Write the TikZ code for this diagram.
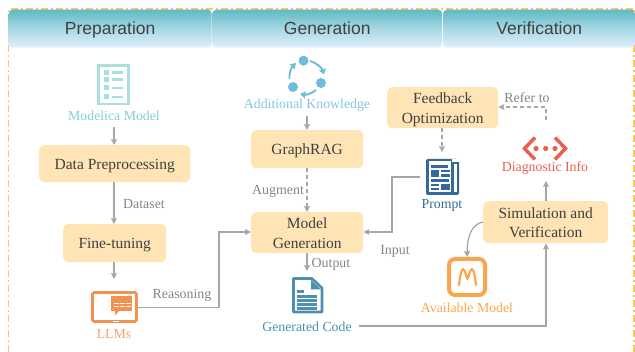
\documentclass[tikz,border=0pt]{standalone}
\usepackage{fontspec}
\setmainfont{Liberation Serif}
\newfontfamily\headfont{Liberation Sans}
\usetikzlibrary{arrows.meta,positioning}
\definecolor{boxfill}{HTML}{FFE4B5}
\definecolor{framec}{HTML}{FBC65F}
\definecolor{headtop}{HTML}{5FBAC5}
\definecolor{headbot}{HTML}{E1F0FC}
\definecolor{linec}{HTML}{A6A6A6}
\definecolor{labelc}{HTML}{858585}
\definecolor{inkc}{HTML}{404040}
\definecolor{modelc}{HTML}{A9DFE1}
\definecolor{modeltx}{HTML}{7FD0D4}
\definecolor{knowc}{HTML}{6FBBDA}
\definecolor{llmc}{HTML}{F39250}
\definecolor{codec}{HTML}{4E8FB0}
\definecolor{promptc}{HTML}{35689B}
\definecolor{availc}{HTML}{FBA64F}
\definecolor{diagc}{HTML}{E8604F}
\tikzset{
  x=1pt,y=-1pt,
  head/.style={anchor=north west,rounded corners=4pt,top color=headtop,bottom color=headbot,middle color=headbot!55!headtop,shading angle=0,draw=none,inner sep=0pt,font=\headfont\fontsize{17.5}{20}\selectfont,text=inkc,text height=12.6,text depth=0},
  procbox/.style={fill=boxfill,rounded corners=5pt,align=center,font=\fontsize{15.5}{19.5}\selectfont,text=inkc,inner sep=0pt,anchor=north west},
  oneline/.style={procbox,text height=11.6,text depth=0},
  twoline/.style={procbox,text height=31,text depth=0},
  conn/.style={draw=linec,line width=1.2pt,-{Stealth[length=6pt,width=6pt,inset=1pt]}},
  dconn/.style={conn,dash pattern=on 4pt off 3pt},
  lab/.style={font=\fontsize{13.9}{16}\selectfont,text=labelc,inner sep=0pt},
  captext/.style={font=\fontsize{13.8}{16}\selectfont,inner sep=0pt},
  iconbox/.style={inner sep=0pt,anchor=north west},
}
\begin{document}
\begin{tikzpicture}
\useasboundingbox (0,0) rectangle (635,352);
% frame
\draw[framec,line width=1.1pt,dash pattern=on 7pt off 3pt on 2pt off 3pt] (8.5,352) -- (8.5,9) -- (634,9) -- (634,352);
% headers
\node[head,minimum width=203,minimum height=38] (h1) at (8.5,9.5) {Preparation};
\node[head,minimum width=230,minimum height=38] (h2) at (212,9.5) {Generation};
\node[head,minimum width=192,minimum height=38] (h3) at (443,9.5) {Verification};
% process boxes
\node[oneline,minimum width=151,minimum height=37] (dp) at (39,145) {Data Preprocessing};
\node[oneline,minimum width=103,minimum height=38] (ft) at (63,224) {Fine-tuning};
\node[oneline,minimum width=112,minimum height=38] (gr) at (251,130) {GraphRAG};
\node[twoline,minimum width=112,minimum height=41] (mg) at (251,212) {Model\\Generation};
\node[twoline,minimum width=111,minimum height=41] (fo) at (387,87) {Feedback\\Optimization};
\node[twoline,minimum width=125,minimum height=42] (sv) at (483,201) {Simulation and\\Verification};
% icon placeholders
\node[iconbox,minimum width=33,minimum height=42] (imm) at (97,64) {};
\node[iconbox,minimum width=47,minimum height=32] (illm) at (91,291) {};
\node[iconbox,minimum width=31,minimum height=36] (icode) at (292,277) {};
\node[iconbox,minimum width=33,minimum height=36] (iprompt) at (426,159) {};
\node[iconbox,minimum width=40,minimum height=40] (iavail) at (447,257) {};
\node[iconbox,minimum width=46,minimum height=25] (idiag) at (522,136) {};
% captions
\node[captext,text=modeltx] (tmm) at (114,116) {Modelica Model};
\node[captext,text=knowc!85!white] (tak) at (307,105) {Additional Knowledge};
\node[captext,text=llmc!85!white] (tllm) at (114,334.5) {LLMs};
\node[captext,text=codec] (tcode) at (307,327) {Generated Code};
\node[captext,text=promptc] (tprompt) at (442,205) {Prompt};
\node[captext,text=availc] (tavail) at (467,308) {Available Model};
\node[captext,text=diagc] (tdiag) at (545,168) {Diagnostic Info};
% labels
\node[lab] at (144,204) {Dataset};
\node[lab] at (182,295) {Reasoning};
\node[lab] at (278,191) {Augment};
\node[lab] at (331,264) {Output};
\node[lab] at (395,251) {Input};
\node[lab] at (527,98) {Refer to};
% connectors
\coordinate (ak) at (307,116);
\coordinate (mmb) at (114,127);
\coordinate (ftb) at (114,279);
\coordinate (gcr) at (359,326);
\coordinate (prl) at (420,177);
\coordinate (diagup) at (546,120);
\coordinate (diagdn) at (546,181);
\coordinate (mgo) at (307,271);
\coordinate (pra) at (442,152);
\draw[conn] (mmb) -- (dp.north -| mmb);
\draw[conn] (dp.south -| mmb) -- (ft.north -| mmb);
\draw[conn] (ft.south -| mmb) -- (ftb);
\draw[conn] (ak) -- (gr.north -| ak);
\draw[dconn] (gr.south -| ak) -- (mg.north -| ak);
\draw[conn] (mg.south -| ak) -- (mgo);
\draw[conn] (illm.east) -| (219,232) -- (mg.west |- 0,232);
\draw[conn] (prl) -- (392,177) -- (392,232) -- (mg.east |- 0,232);
\draw[dconn] (fo.south -| pra) -- (pra);
\draw[dconn] (diagup) -- (546,107) -- (fo.east |- 0,107);
\draw[conn] (sv.north -| diagdn) -- (diagdn);
\draw[conn] (gcr) -- (546,326) -- (sv.south -| diagdn);
\draw[conn] (483,222) .. controls (472,224) and (467,236) .. (iavail.north);
% --- Modelica icon
\draw[modelc,line width=2.6pt] (98.5,65.5) rectangle (128.5,104);
\foreach \yy in {72.5,79.5,88,97}{
  \fill[modelc] (104,\yy-2.5) rectangle (109,\yy+2.5);
  \fill[modelc] (112,\yy-1.3) rectangle (123,\yy+1.3);
}
% --- Knowledge cycle icon
\foreach \px/\py in {303.5/60.7,321/83,293/87}{\fill[knowc] (\px,\py) circle (5);}
\begin{scope}[draw=knowc,line width=1.9pt,-{Stealth[length=5.5pt,width=7pt,inset=0.5pt]}]
\draw (310,61) .. controls (317,63) and (322,68) .. (324,74.5);
\draw (316,90) .. controls (311,94) and (306,95) .. (300,94);
\draw (289.5,79) .. controls (289,73) and (291,68) .. (296,63);
\end{scope}
% --- LLM icon
\draw[llmc,line width=2.6pt,rounded corners=1.5pt] (92.5,292.5) rectangle (136.5,321.5);
\fill[white] (113,321.5) rectangle (119,322.5);
\fill[llmc] (111,296) rectangle (132,311);
\fill[llmc] (115,310) -- (115,315.5) -- (120,310) -- cycle;
\foreach \sx in {114,120,126}{\fill[white] (\sx,303) rectangle ++(4.5,1);\fill[white] (\sx,306.5) rectangle ++(4.5,1);}
% --- Code icon
\draw[codec,line width=2.6pt,line join=round] (293.5,278.5) -- (312,278.5) -- (322,288) -- (322,312) -- (293.5,312) -- cycle;
\fill[codec] (311,280) -- (311,289.5) -- (321,289.5) -- cycle;
\fill[codec] (297,290) rectangle (304,293);
\foreach \yy in {295.5,299.5,303.5,307.5}{\fill[codec] (297,\yy) rectangle (317,\yy+2.2);}
% --- Prompt icon
\fill[promptc,rounded corners=2pt] (426,159) rectangle (459,195);
\fill[white] (453.5,164.5) rectangle (456.5,192);
\fill[white] (452,159) rectangle (459,162.5);
\fill[white] (428.5,161.5) rectangle (451,192.5);
\fill[promptc] (431,165) rectangle (448,168);
\fill[promptc] (431,170) rectangle (439,177);
\fill[promptc] (441,170) rectangle (450,172.5);
\fill[promptc] (441,174.5) rectangle (450,177);
\fill[promptc] (431,179) rectangle (449,182);
\fill[promptc] (431,184) rectangle (439,186);
\fill[promptc] (431,188) rectangle (439,190.5);
\fill[promptc] (441,184) rectangle (450,190.5);
% --- Available model icon
\draw[availc,line width=4pt,rounded corners=6pt] (449,259) rectangle (485,295);
\draw[availc,line width=2.2pt,line join=round,line cap=round] (459,285) .. controls (460,277) and (461,270) .. (463,269) .. controls (465,270) and (466,276) .. (467.5,279) .. controls (469,276) and (470,270) .. (472,269) .. controls (474,270) and (475,277) .. (476,285);
% --- Diagnostic icon
\draw[diagc,line width=3.5pt] (535,137.5) -- (524.5,148.5) -- (535,159.5);
\draw[diagc,line width=3.5pt] (555,137.5) -- (565.5,148.5) -- (555,159.5);
\foreach \px in {536,545.7,555}{\fill[diagc] (\px,148.5) circle (2.6);}
\end{tikzpicture}
\end{document}
